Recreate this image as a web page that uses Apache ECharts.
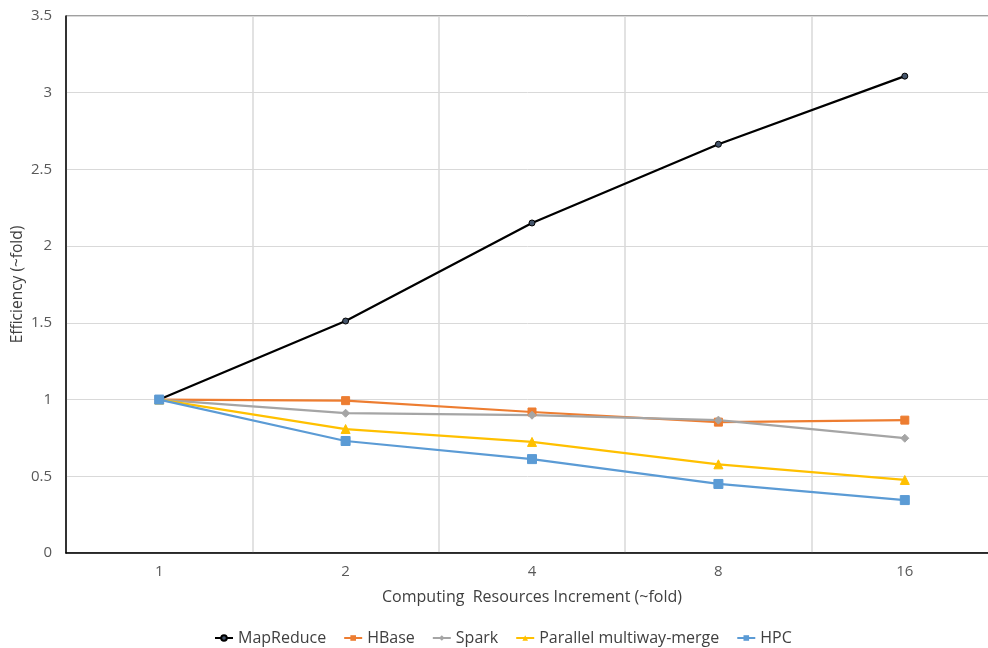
<!DOCTYPE html>
<html><head><meta charset="utf-8">
<script src="https://cdn.jsdelivr.net/npm/echarts@6/dist/echarts.min.js"></script>
<style>html,body{margin:0;padding:0;background:#fff}#c{width:988px;height:648px}</style>
</head><body><div id="c"></div>
<script>
const categories = ['1', '2', '4', '8', '16'];
const mapReduce = [1, 1.512, 2.151, 2.664, 3.108];
const hbase = [1, 0.993, 0.919, 0.853, 0.866];
const spark = [1, 0.911, 0.898, 0.866, 0.748];
const pmm = [1, 0.808, 0.724, 0.578, 0.476];
const hpc = [1, 0.730, 0.612, 0.450, 0.345];

const font = 'Open Sans';
function s(name, data, color, symbol, size, extra) {
  return Object.assign({
    name, type: 'line', data, symbol, symbolSize: size,
    lineStyle: { color, width: 2.25 },
    itemStyle: { color, borderColor: color },
    emphasis: { disabled: true }, animation: false
  }, extra || {});
}
const chart = echarts.init(document.getElementById('c'));
chart.setOption({
  animation: false,
  grid: { left: 66, top: 16, right: -10, bottom: 95, outerBoundsMode: 'none', containLabel: false,
          show: true, borderColor: '#404040', borderWidth: 1 },
  legend: {
    top: 630, left: 214, padding: 0, itemWidth: 18, itemHeight: 7, itemGap: 17,
    textStyle: { fontFamily: font, fontSize: 16, color: '#404040' }
  },
  xAxis: {
    type: 'category', data: categories, boundaryGap: true,
    name: 'Computing  Resources Increment (~fold)', nameLocation: 'middle', nameGap: 36,
    nameTextStyle: { fontFamily: font, fontSize: 16, color: '#404040' },
    axisLine: { lineStyle: { color: '#000', width: 1.5 } },
    axisTick: { show: false },
    axisLabel: { fontFamily: font, fontSize: 15, color: '#595959', margin: 11 },
    splitLine: { show: true, lineStyle: { color: '#d9d9d9', width: 1.5 } }
  },
  yAxis: {
    type: 'value', min: 0, max: 3.5, interval: 0.5,
    name: 'Efficiency (~fold)', nameLocation: 'middle', nameGap: 40, nameMoveOverlap: false,
    nameTextStyle: { fontFamily: font, fontSize: 15.5, color: '#404040' },
    axisLine: { show: true, lineStyle: { color: '#000', width: 1.5 } },
    axisTick: { show: false },
    axisLabel: { fontFamily: font, fontSize: 15, color: '#595959', margin: 14 },
    splitLine: { show: true, lineStyle: { color: '#d9d9d9', width: 1 } }
  },
  series: [
    s('MapReduce', mapReduce, '#000000', 'circle', 6, { itemStyle: { color: '#44546a', borderColor: '#000', borderWidth: 1 } }),
    s('HBase', hbase, '#ed7d31', 'rect', 8),
    s('Spark', spark, '#a5a5a5', 'diamond', 8),
    s('Parallel multiway-merge', pmm, '#ffc000', 'triangle', 9),
    s('HPC', hpc, '#5b9bd5', 'rect', 9)
  ]
});
</script></body></html>
